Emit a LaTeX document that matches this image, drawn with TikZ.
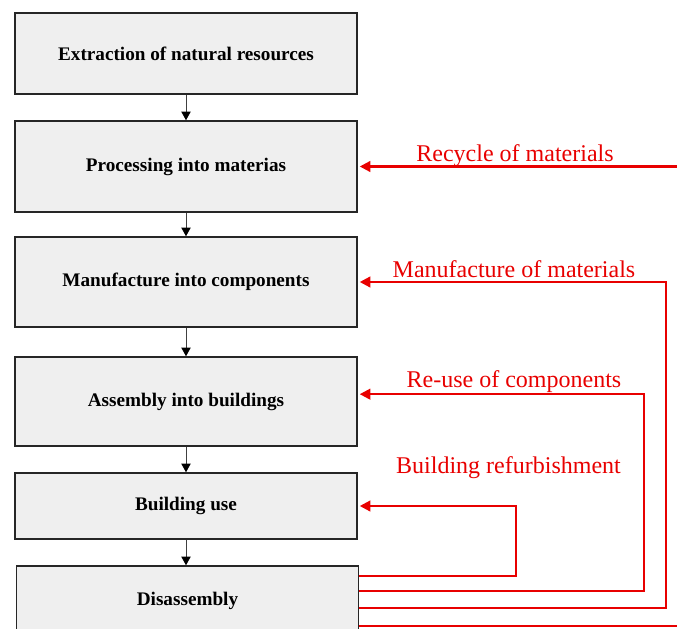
\documentclass[tikz,border=0pt]{standalone}
\usepackage{fontspec}
\setmainfont{Liberation Serif}
\usetikzlibrary{arrows.meta}
\definecolor{backred}{RGB}{232,0,0}
\definecolor{boxgray}{RGB}{239,239,239}
\begin{document}
\begin{tikzpicture}[x=0.75pt,y=-0.75pt]
        \tikzstyle{stage}=[rectangle,draw=black!85,line width=1.1pt,fill=boxgray,minimum width=256.5pt,inner sep=0pt,font=\fontsize{14.4}{17}\selectfont\bfseries]
        \tikzstyle{flow}=[draw=black!75,line width=0.7pt,-{Triangle[length=6.5pt,width=7pt,color=black]}]
        \tikzstyle{back}=[draw=backred,line width=1.7pt,-{Triangle[length=8pt,width=8pt]},shorten >=1.5pt]
        \tikzstyle{tag}=[text=backred,anchor=base,inner sep=0pt,font=\fontsize{18}{21}\selectfont]
        \useasboundingbox (0,0) rectangle (677,628);
        \clip (0,0) rectangle (677,628);
       \begin{scope}
         \node [stage,minimum height=60.75pt] (extraction) at (186,53.5) {Extraction of natural resources};
         \node [stage,minimum height=68.25pt] (processing) at (186,166.5) {Processing into materias};
         \node [stage,minimum height=67.5pt] (manufacture) at (186,282) {Manufacture into components};
         \node [stage,minimum height=66.75pt] (assembly) at (186,401.5) {Assembly into buildings};
         \node [stage,minimum height=49.5pt] (use) at (186,506) {Building use};
         \node [stage,minimum height=52.5pt] (disassembly) at (187.5,601) {Disassembly};
         \path[flow] (extraction) edge (processing);
         \path[flow] (processing) edge (manufacture);
         \path[flow] (manufacture) edge (assembly);
         \path[flow] (assembly) edge (use);
         \path[flow] (use.south) -- (use.south |- disassembly.north);
        \end{scope}
       \begin{scope}
         \coordinate (refurb) at (516,576);
         \coordinate (reuse) at (644,591);
         \coordinate (remake) at (666,608);
         \coordinate (recycle) at (690,626);
         \path[back] (disassembly.east |- refurb) -- (refurb) |- (use.east);
         \path[back] (disassembly.east |- reuse) -- (reuse) |- ([yshift=5.5pt]assembly.east);
         \path[back] (disassembly.east |- remake) -- (remake) |- (manufacture.east);
         \path[back] (disassembly.east |- recycle) -- (recycle) |- (processing.east);
         \node [tag] (lrecycle) at (515,161) {Recycle of materials};
         \node [tag] (lremake) at (514,277) {Manufacture of materials};
         \node [tag] (lreuse) at (514,387) {Re-use of components};
         \node [tag] (lrefurb) at (508.5,473) {Building refurbishment};
        \end{scope}
      \end{tikzpicture}
\end{document}
